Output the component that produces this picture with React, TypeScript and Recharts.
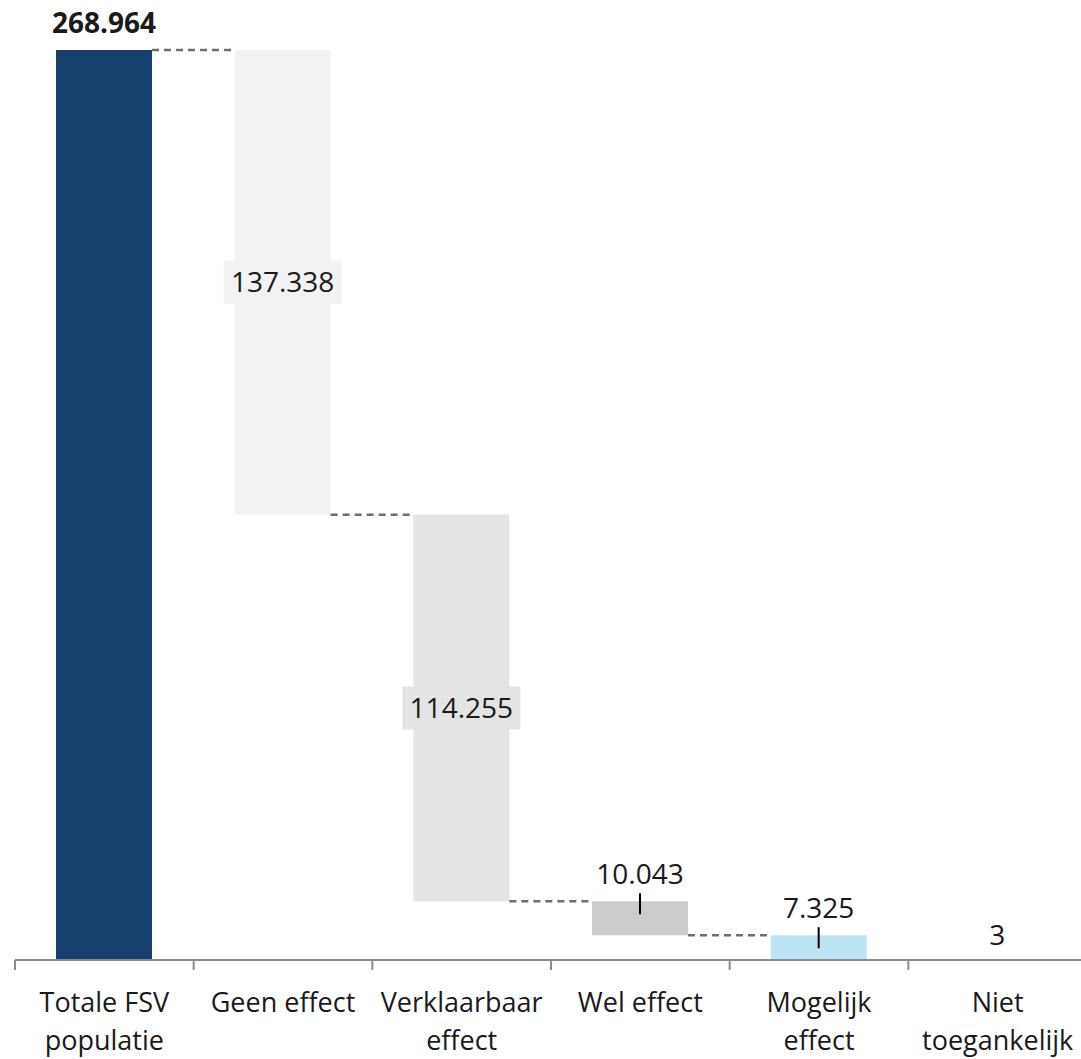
import React from 'react'
import { Bar, BarChart, Cell, LabelList, XAxis, YAxis } from 'recharts'

// waterfall: invisible base + visible step
const categories = ['Totale FSV\npopulatie', 'Geen effect', 'Verklaarbaar\neffect', 'Wel effect', 'Mogelijk\neffect', 'Niet\ntoegankelijk']
const stepValues = [268964, 137338, 114255, 10043, 7325, 3]
const baseValues = [0, 131626, 17371, 7328, 3, 0]
const barColors = ['#17406e', '#f2f2f2', '#e4e4e4', '#cccccc', '#bde3f5', '#bde3f5']
// how each value label is drawn
const labelModes = ['topBold', 'inside', 'inside', 'topTick', 'topTick', 'top']

const WIDTH = 1087
const HEIGHT = 1059
const MARGIN = { top: 50, right: 0, bottom: 0, left: 15 }
const BAR_SIZE = 96
const BAND = (WIDTH - MARGIN.left - MARGIN.right) / categories.length
const GAP = BAND - BAR_SIZE
const FONT = '"Open Sans", "Noto Sans", sans-serif'
const TEXT = '#1a1a1a'

const data = categories.map((name, i) => ({ name, base: baseValues[i], value: stepValues[i] }))

function fmt(v: number): string {
  return String(v).replace(/\B(?=(\d{3})+(?!\d))/g, '.')
}

function AxisTick(props: any) {
  const { x, y, payload, index } = props
  const lines = String(payload.value).split('\n')
  const left = x - BAND / 2
  return (
    <g>
      <line x1={left} y1={y} x2={left} y2={y + 10} stroke="#8c8c8c" strokeWidth={2} />
      {index === categories.length - 1 && (
        <line x1={left + BAND} y1={y} x2={left + BAND} y2={y + 10} stroke="#8c8c8c" strokeWidth={2} />
      )}
      {lines.map((line, i) => (
        <text key={i} x={x} y={y + 52 + i * 38} textAnchor="middle" fontFamily={FONT} fontSize={27} fill={TEXT}>
          {line}
        </text>
      ))}
    </g>
  )
}

function StepLabel(props: any) {
  const { x, y, width, height, index } = props
  const mode = labelModes[index]
  const cx = x + width / 2
  const text = fmt(stepValues[index])
  const connector =
    index > 0 && index < categories.length - 1 ? (
      <line x1={x - GAP} y1={y} x2={x} y2={y} stroke="#6f6f6f" strokeWidth={2.5} strokeDasharray="7 5" />
    ) : null

  if (mode === 'inside') {
    const cy = y + height / 2
    return (
      <g>
        {connector}
        <rect x={cx - 59} y={cy - 21.5} width={118} height={43} fill={barColors[index]} />
        <text x={cx} y={cy + 10} textAnchor="middle" fontFamily={FONT} fontSize={28} fill={TEXT}>
          {text}
        </text>
      </g>
    )
  }
  return (
    <g>
      {connector}
      {mode === 'topTick' && <line x1={cx} y1={y - 8} x2={cx} y2={y + 13} stroke="#000" strokeWidth={2} />}
      <text
        x={cx}
        y={y - (mode === 'top' ? 15 : 17)}
        textAnchor="middle"
        fontFamily={FONT}
        fontSize={28}
        fontWeight={mode === 'topBold' ? 700 : 400}
        fill={TEXT}
      >
        {text}
      </text>
    </g>
  )
}

export default function App() {
  return (
    <div style={{ position: 'absolute', left: 0, top: 0, width: WIDTH, height: HEIGHT, background: '#fff' }}>
      <BarChart width={WIDTH} height={HEIGHT} data={data} margin={MARGIN} barSize={BAR_SIZE}>
        <XAxis
          dataKey="name"
          interval={0}
          axisLine={{ stroke: '#8c8c8c', strokeWidth: 2 }}
          tickLine={false}
          tickSize={0}
          tickMargin={0}
          height={HEIGHT - 960}
          tick={<AxisTick />}
        />
        <YAxis hide domain={[0, stepValues[0]]} />
        <Bar dataKey="base" stackId="w" fill="transparent" isAnimationActive={false} />
        <Bar dataKey="value" stackId="w" isAnimationActive={false}>
          {data.map((d, i) => (
            <Cell key={d.name} fill={barColors[i]} />
          ))}
          <LabelList dataKey="value" content={<StepLabel />} />
        </Bar>
      </BarChart>
    </div>
  )
}
